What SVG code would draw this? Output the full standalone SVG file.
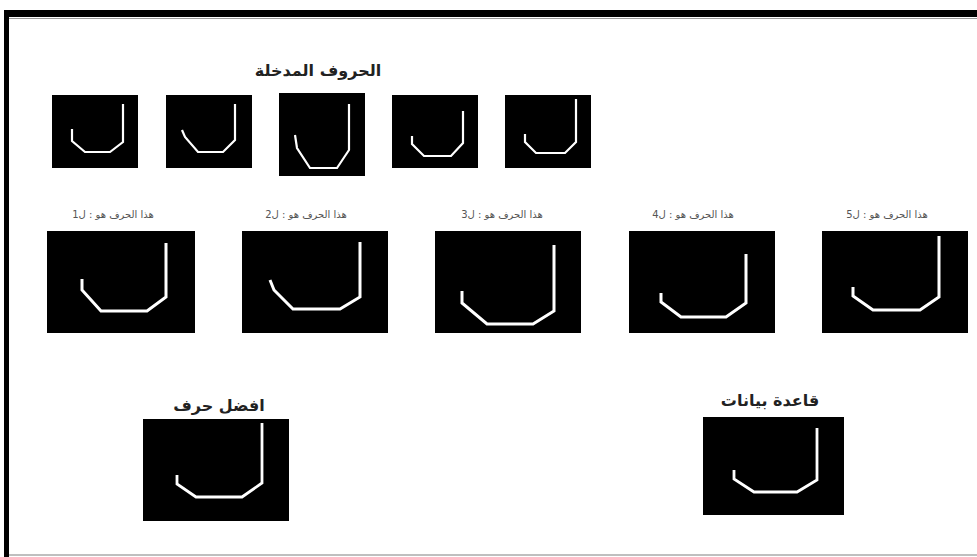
<svg xmlns="http://www.w3.org/2000/svg" width="977" height="557" viewBox="0 0 977 557">
<style>
.bg{fill:#fff}
.box{fill:#000}
.ch{fill:none;stroke:#fff;stroke-linejoin:miter;stroke-linecap:butt}
.s1{stroke-width:2.2}
.s2{stroke-width:3}
.s3{stroke-width:2.8}
.t{font-family:"DejaVu Sans",sans-serif;text-anchor:middle;direction:rtl}
.big{font-size:16px;font-weight:bold;fill:#222}
.small{font-size:10px;fill:#555}
</style>
<rect class="bg" x="0" y="0" width="977" height="557"/>
<g id="frame">
<rect x="4" y="10" width="973" height="7" fill="#000"/>
<rect x="4" y="10" width="5" height="547" fill="#000"/>
<line x1="9" y1="18.5" x2="977" y2="18.5" stroke="#999" stroke-width="1"/>
<line x1="9" y1="555" x2="977" y2="555" stroke="#aaa" stroke-width="1.5"/>
</g>
<g id="title-input"><text class="t big" x="318" y="76">الحروف المدخلة</text></g>
<g id="input1"><rect class="box" x="52" y="95" width="86" height="73"/><polyline class="ch s1" points="72,129 72,141 85,152 110,152 123,142 123,104"/></g>
<g id="input2"><rect class="box" x="166" y="95" width="86" height="73"/><polyline class="ch s1" points="182,130 185,137 198,152 223,152 235,140 235,104"/></g>
<g id="input3"><rect class="box" x="279" y="93" width="86" height="83"/><polyline class="ch s1" points="295,135 297,148 310,168 337,168 349,150 349,104"/></g>
<g id="input4"><rect class="box" x="392" y="95" width="86" height="73"/><polyline class="ch s1" points="412,136 412,144 424,156 451,156 463,143 463,111"/></g>
<g id="input5"><rect class="box" x="505" y="95" width="86" height="73"/><polyline class="ch s1" points="525,134 525,142 536,153 565,153 576,142 576,99"/></g>
<g id="candidate1"><text class="t small" x="113" y="218">هذا الحرف هو : ل1</text><rect class="box" x="47" y="231" width="148" height="102"/><polyline class="ch s2" points="82,279 82,290 101,311 147,311 166,297 166,243"/></g>
<g id="candidate2"><text class="t small" x="306" y="218">هذا الحرف هو : ل2</text><rect class="box" x="242" y="231" width="146" height="102"/><polyline class="ch s2" points="270,280 274,290 293,309 340,309 360,297 360,242"/></g>
<g id="candidate3"><text class="t small" x="502" y="218">هذا الحرف هو : ل3</text><rect class="box" x="435" y="231" width="146" height="102"/><polyline class="ch s2" points="462,291 462,303 487,324 533,324 554,311 554,245"/></g>
<g id="candidate4"><text class="t small" x="693" y="218">هذا الحرف هو : ل4</text><rect class="box" x="629" y="231" width="146" height="102"/><polyline class="ch s2" points="661,293 661,302 681,317 726,317 746,303 746,254"/></g>
<g id="candidate5"><text class="t small" x="887" y="218">هذا الحرف هو : ل5</text><rect class="box" x="822" y="231" width="146" height="102"/><polyline class="ch s2" points="853,287 853,296 873,310 920,310 939,297 939,236"/></g>
<g id="best"><text class="t big" x="219" y="411">افضل حرف</text><rect class="box" x="143" y="419" width="146" height="102"/><polyline class="ch s3" points="177,475 177,484 196,497 242,497 262,483 262,423"/></g>
<g id="database"><text class="t big" x="770" y="406">قاعدة بيانات</text><rect class="box" x="703" y="417" width="141" height="98"/><polyline class="ch s3" points="734,470 734,479 754,492 797,492 817,480 817,428"/></g>
</svg>
